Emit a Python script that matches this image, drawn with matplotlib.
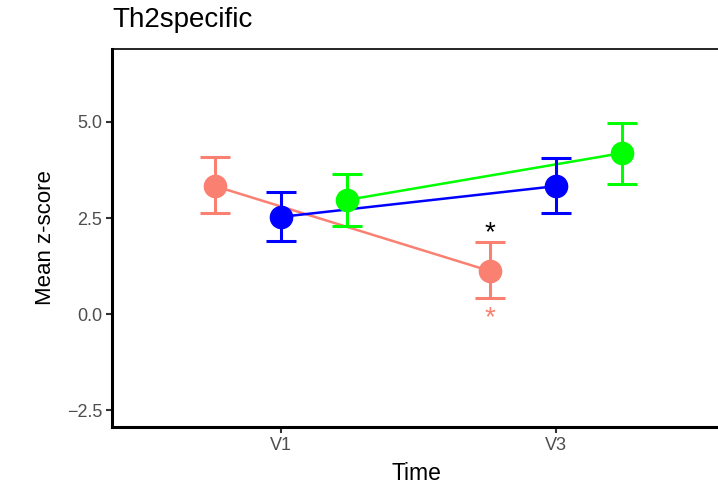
import matplotlib.pyplot as plt
import numpy as np

plt.rcParams['font.family'] = ['Liberation Sans', 'DejaVu Sans']

times = ['V1', 'V3']
groups = ['salmon', 'blue', 'green']
colors = ['#FA8072', '#0000FF', '#00FF00']
means = [[3.33, 1.12], [2.53, 3.33], [2.97, 4.19]]
lower = [[2.63, 0.42], [1.90, 2.63], [2.29, 3.39]]
upper = [[4.09, 1.88], [3.18, 4.06], [3.65, 4.97]]
offsets = [-0.24, 0.0, 0.24]

fig = plt.figure(figsize=(7.18, 4.86), dpi=100)
ax = fig.add_axes([0.156, 0.1214, 0.848, 0.7778])

x = np.arange(1, len(times) + 1)
for m, lo, hi, c, off in zip(means, lower, upper, colors, offsets):
    m = np.array(m)
    err = [m - np.array(lo), np.array(hi) - m]
    ax.plot(x + off, m, color=c, lw=1.8, zorder=2)
    ax.errorbar(x + off, m, yerr=err, fmt='none', ecolor=c, elinewidth=2.2,
                capsize=11, capthick=2.2, zorder=3)
    ax.plot(x + off, m, 'o', color=c, ms=16, zorder=4)

# significance marks at V3 for the first group
ax.text(2 + offsets[0], 2.1, '*', color='black', ha='center', va='center', fontsize=20)
ax.text(2 + offsets[0], -0.1, '*', color=colors[0], ha='center', va='center', fontsize=20)

ax.set_xlim(0.385, 2.6)
ax.set_ylim(-2.94, 6.9)
ax.set_xticks(x)
ax.set_xticklabels(times)
ax.set_yticks([-2.5, 0.0, 2.5, 5.0])
ax.set_yticklabels(['\u22122.5', '0.0', '2.5', '5.0'])
ax.tick_params(colors='#333333', labelcolor='#4D4D4D', labelsize=13, length=4, width=1.5, pad=3)

for s in ['left', 'bottom']:
    ax.spines[s].set_linewidth(2.2)
ax.spines['top'].set_linewidth(1.2)
ax.spines['right'].set_visible(False)

ax.set_xlabel('Time', fontsize=16.5, labelpad=6)
ax.set_ylabel('Mean z-score', fontsize=16, labelpad=8)
fig.text(0.156, 0.958, 'Th2specific', fontsize=20, va='center', ha='left')

fig.savefig('out.png', dpi=100)
